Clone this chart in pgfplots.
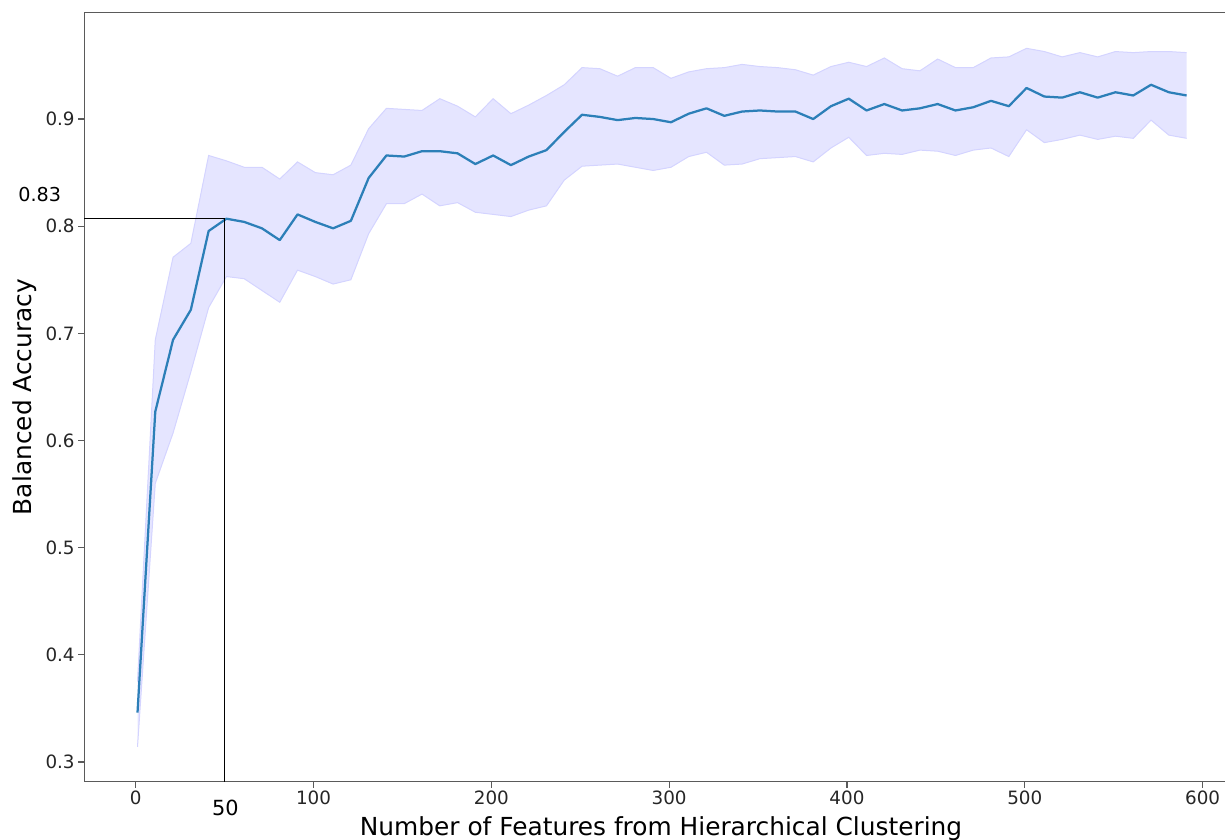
\documentclass[border=0pt]{standalone}
\usepackage{pgfplots}
\pgfplotsset{compat=1.18}
\usepackage{pgfplotstable}
\usepgfplotslibrary{fillbetween}
\usepackage{fontspec}
\setmainfont{DejaVu Sans}
\definecolor{meanline}{RGB}{44,127,184}
\definecolor{bandfill}{RGB}{229,229,255}
\definecolor{bandedge}{RGB}{212,212,255}
\definecolor{spine}{RGB}{90,90,90}

\pgfplotstableread{
x mean lo up
1 0.346 0.314 0.375
11 0.627 0.560 0.694
21 0.694 0.607 0.771
31 0.722 0.664 0.784
41 0.7955 0.724 0.866
51 0.807 0.753 0.861
61 0.804 0.751 0.855
71 0.798 0.740 0.855
81 0.787 0.729 0.844
91 0.811 0.759 0.860
101 0.804 0.753 0.850
111 0.798 0.746 0.848
121 0.805 0.750 0.857
131 0.845 0.793 0.891
141 0.866 0.821 0.910
151 0.865 0.821 0.909
161 0.870 0.830 0.908
171 0.870 0.819 0.919
181 0.868 0.822 0.912
191 0.858 0.813 0.902
201 0.866 0.811 0.919
211 0.857 0.809 0.905
221 0.865 0.815 0.913
231 0.871 0.819 0.922
241 0.888 0.843 0.932
251 0.904 0.856 0.948
261 0.902 0.857 0.947
271 0.899 0.858 0.940
281 0.901 0.855 0.948
291 0.900 0.852 0.948
301 0.897 0.855 0.938
311 0.905 0.865 0.944
321 0.910 0.869 0.947
331 0.903 0.857 0.948
341 0.907 0.858 0.951
351 0.908 0.863 0.949
361 0.907 0.864 0.948
371 0.907 0.865 0.946
381 0.900 0.860 0.941
391 0.912 0.873 0.949
401 0.919 0.883 0.953
411 0.908 0.866 0.949
421 0.914 0.868 0.957
431 0.908 0.867 0.947
441 0.910 0.871 0.945
451 0.914 0.870 0.956
461 0.908 0.866 0.948
471 0.911 0.871 0.948
481 0.917 0.873 0.957
491 0.912 0.865 0.958
501 0.929 0.890 0.966
511 0.921 0.878 0.963
521 0.920 0.881 0.958
531 0.925 0.885 0.962
541 0.920 0.881 0.958
551 0.925 0.884 0.963
561 0.922 0.882 0.962
571 0.932 0.899 0.963
581 0.925 0.885 0.963
591 0.922 0.882 0.962
}\datatable

\begin{document}
\begin{tikzpicture}
\begin{axis}[
  at={(0,0)}, anchor=south west,
  scale only axis,
  width=692.3pt, height=461.6pt,
  xmin=-28.9, xmax=620,
  ymin=0.2816, ymax=0.9996,
  axis line style={spine, line width=0.9pt},
  tick style={spine, line width=0.8pt},
  tick align=outside,
  major tick length=3.6pt,
  xtick={0,100,200,300,400,500,600},
  ytick={0.3,0.4,0.5,0.6,0.7,0.8,0.9},
  yticklabel style={/pgf/number format/fixed, /pgf/number format/precision=1},
  /pgf/number format/assume math mode=true,
  ticklabel style={font=\fontsize{11}{13}\selectfont, text=black!85},
  xticklabel style={inner sep=2pt},
  yticklabel style={inner sep=2pt},
  scaled y ticks=false,
  xlabel={Number of Features from Hierarchical Clustering},
  ylabel={Balanced Accuracy},
  label style={font=\fontsize{14.9}{17}\selectfont},
  xlabel style={at={(axis description cs:0.4998,-0.0705)}, anchor=base},
  ylabel style={at={(axis description cs:-0.052,0.5)}, anchor=center, rotate=0},
  clip=false,
  axis x line*=bottom,
  axis y line*=left,
  every outer x axis line/.append style={-},
  every outer y axis line/.append style={-},
]
\addplot[name path=up, draw=bandedge, line width=0.6pt] table[x=x, y=up] {\datatable};
\addplot[name path=lo, draw=bandedge, line width=0.6pt] table[x=x, y=lo] {\datatable};
\addplot[fill=bandfill, draw=none] fill between[of=up and lo];
\addplot[meanline, line width=1.35pt, line join=round] table[x=x, y=mean] {\datatable};
\addplot[black, line width=0.6pt] coordinates {(-28.9,0.8075) (50,0.8075) (50,0.2816)};
\node[font=\fontsize{11.5}{13}\selectfont] at (axis cs:-54,0.83) {0.83};
\node[font=\fontsize{12.5}{14}\selectfont] at (axis cs:50.4,0.257) {50};
\end{axis}
\draw[spine, line width=0.9pt] (0,461.6pt) -- (692.3pt,461.6pt);
\pgfresetboundingbox
\path[use as bounding box] (-50.6pt,-34.4pt) rectangle (684.4pt,469.0pt);
\end{tikzpicture}
\end{document}
